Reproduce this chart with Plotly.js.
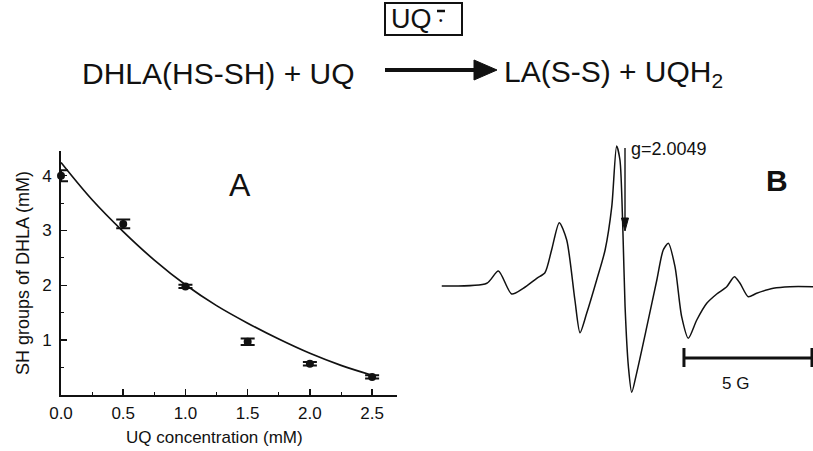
<!DOCTYPE html>
<html>
<head>
<meta charset="utf-8">
<script src="https://cdn.plot.ly/plotly-3.0.1.min.js"></script>
<style>html,body{margin:0;padding:0;background:#fff;}#chart{width:813px;height:451px;}</style>
</head>
<body>
<div id="chart"></div>
<script>
// ---- Panel A data ----
const uqConc = [0.0, 0.5, 1.0, 1.5, 2.0, 2.5];
const shGroups = [4.00, 3.12, 1.98, 0.97, 0.57, 0.33];
const shError = [0.10, 0.08, 0.03, 0.06, 0.03, 0.03];
const fitX = [0, 0.25, 0.5, 0.75, 1.0, 1.25, 1.5, 1.75, 2.0, 2.25, 2.5];
const fitY = [4.24, 3.56, 2.98, 2.46, 2.01, 1.63, 1.31, 1.02, 0.76, 0.54, 0.36];
const xTickVals = [0, 0.5, 1.0, 1.5, 2.0, 2.5];
const xTickText = ["0.0", "0.5", "1.0", "1.5", "2.0", "2.5"];
const yTickVals = [1, 2, 3, 4];
const yTickText = ["1", "2", "3", "4"];

// ---- Panel B data (EPR spectrum, field in G, intensity a.u.) ----
const fieldG = [0.03, 1.79, 2.24, 2.76, 3.21, 3.74, 4.06, 4.32, 4.62, 4.91, 5.23, 5.43, 5.69, 6.08, 6.41, 6.67, 6.86, 6.99, 7.10, 7.19, 7.32, 7.45, 7.64, 8.04, 8.43, 8.68, 8.88, 9.14, 9.40, 9.66, 9.99, 10.38, 10.77, 11.16, 11.46, 11.68, 12.00, 12.33, 12.98, 13.63, 14.53];
const eprSignal = [0.00, 0.027, 0.15, -0.08, -0.023, 0.077, 0.133, 0.36, 0.633, 0.46, -0.14, -0.467, -0.273, 0.06, 0.36, 0.793, 1.40, 1.26, 0.593, -0.207, -0.807, -1.063, -0.873, -0.407, 0.06, 0.36, 0.427, 0.193, -0.307, -0.523, -0.34, -0.173, -0.08, -0.007, 0.093, 0.027, -0.107, -0.073, -0.023, -0.007, -0.007];
const gValueLabel = "g=2.0049";
const scaleBarStartG = 9.49;
const scaleBarLengthG = 5;

const W = 813, H = 451;
const px = x => x / W;
const py = y => 1 - y / H;
const FONT = "Liberation Sans, Arial, Helvetica, sans-serif";
const black = "#111";

const traces = [
  {x: fitX, y: fitY, type: "scatter", mode: "lines", line: {color: black, width: 1.7, shape: "spline", smoothing: 1}, xaxis: "x", yaxis: "y", hoverinfo: "skip"},
  {x: uqConc, y: shGroups, type: "scatter", mode: "markers", marker: {color: black, size: 8, symbol: "circle"},
   error_y: {type: "data", array: shError, visible: true, color: black, thickness: 2, width: 7},
   cliponaxis: false, xaxis: "x", yaxis: "y"},
  {x: fieldG, y: eprSignal, type: "scatter", mode: "lines", line: {color: black, width: 1.5, shape: "spline", smoothing: 0.7}, xaxis: "x2", yaxis: "y2", hoverinfo: "skip"}
];

const layout = {
  width: W, height: H,
  margin: {l: 0, r: 0, t: 0, b: 0},
  paper_bgcolor: "#fff", plot_bgcolor: "rgba(0,0,0,0)",
  showlegend: false,
  font: {family: FONT, color: black},
  xaxis: {
    domain: [px(61), px(397)], range: [0, 2.7],
    tickvals: xTickVals, ticktext: xTickText,
    ticks: "inside", ticklen: 6, tickwidth: 1.5, tickcolor: black,
    minor: {dtick: 0.25, tick0: 0, ticks: "inside", ticklen: 3, tickwidth: 1, tickcolor: black},
    showline: true, linecolor: black, linewidth: 2, showgrid: false, zeroline: false,
    tickfont: {size: 17, family: FONT, color: black},
    ticklabelstandoff: 2,
    anchor: "y"
  },
  yaxis: {
    domain: [py(395), py(151)], range: [0, 4.45],
    tickvals: yTickVals, ticktext: yTickText,
    ticks: "inside", ticklen: 6, tickwidth: 1.5, tickcolor: black,
    minor: {dtick: 0.5, tick0: 0, ticks: "inside", ticklen: 3, tickwidth: 1, tickcolor: black},
    showline: true, linecolor: black, linewidth: 2, showgrid: false, zeroline: false,
    tickfont: {size: 17, family: FONT, color: black},
    ticklabelstandoff: 4,
    title: {text: "SH groups of DHLA (mM)", font: {size: 18, family: FONT, color: black}, standoff: 8},
    anchor: "x"
  },
  xaxis2: {domain: [px(441), 1], range: [0, 14.53], visible: false, anchor: "y2"},
  yaxis2: {domain: [py(400), py(140)], range: [-1.14, 1.46], visible: false, anchor: "x2"},
  shapes: [
    // reaction arrow
    {type: "line", xref: "paper", yref: "paper", x0: px(385), x1: px(478), y0: py(70), y1: py(70), line: {color: black, width: 4}},
    {type: "path", xref: "paper", yref: "paper", path: `M ${px(474)} ${py(60)} L ${px(497)} ${py(70)} L ${px(474)} ${py(80)} Z`, fillcolor: black, line: {color: black, width: 1}},
    // box around radical
    {type: "rect", xref: "paper", yref: "paper", x0: px(385), x1: px(462), y0: py(35), y1: py(3), line: {color: black, width: 2}},
    {type: "line", xref: "paper", yref: "paper", x0: px(437), x1: px(445), y0: py(11), y1: py(11), line: {color: black, width: 2.5}},
    // g-value marker arrow
    {type: "line", xref: "paper", yref: "paper", x0: px(625), x1: px(625), y0: py(148), y1: py(222), line: {color: black, width: 1.4}},
    {type: "path", xref: "paper", yref: "paper", path: `M ${px(621.5)} ${py(218)} L ${px(625)} ${py(231)} L ${px(628.5)} ${py(218)} Z`, fillcolor: black, line: {color: black, width: 1}},
    // scale bar
    {type: "line", xref: "x2", yref: "y2", x0: scaleBarStartG, x1: scaleBarStartG + scaleBarLengthG, y0: -0.72, y1: -0.72, line: {color: black, width: 3}},
    {type: "line", xref: "x2", yref: "y2", x0: scaleBarStartG, x1: scaleBarStartG, y0: -0.62, y1: -0.81, line: {color: black, width: 3}},
    {type: "line", xref: "x2", yref: "y2", x0: scaleBarStartG + scaleBarLengthG, x1: scaleBarStartG + scaleBarLengthG, y0: -0.62, y1: -0.81, line: {color: black, width: 3}}
  ],
  annotations: [
    {xref: "paper", yref: "paper", x: px(80), y: py(73), xanchor: "left", yanchor: "middle", text: "DHLA(HS-SH) + UQ", showarrow: false, font: {size: 30, family: FONT, color: black}},
    {xref: "paper", yref: "paper", x: px(502), y: py(73), xanchor: "left", yanchor: "middle", text: "LA(S-S) + UQH<sub>2</sub>", showarrow: false, font: {size: 30, family: FONT, color: black}},
    {xref: "paper", yref: "paper", x: px(389), y: py(19), xanchor: "left", yanchor: "middle", text: "UQ", showarrow: false, font: {size: 27, family: FONT, color: black}},
    {xref: "paper", yref: "paper", x: px(441), y: py(21), xanchor: "center", yanchor: "middle", text: "•", showarrow: false, font: {size: 10, family: FONT, color: black}},
    {xref: "paper", yref: "paper", x: px(240), y: py(185), xanchor: "center", yanchor: "middle", text: "A", showarrow: false, font: {size: 32, family: FONT, color: black}},
    {xref: "paper", yref: "paper", x: px(777), y: py(180), xanchor: "center", yanchor: "middle", text: "<b>B</b>", showarrow: false, font: {size: 30, family: FONT, color: black}},
    {xref: "paper", yref: "paper", x: px(629), y: py(149), xanchor: "left", yanchor: "middle", text: gValueLabel, showarrow: false, font: {size: 18, family: FONT, color: black}},
    {xref: "paper", yref: "paper", x: px(214), y: py(437), xanchor: "center", yanchor: "middle", text: "UQ concentration (mM)", showarrow: false, font: {size: 17, family: FONT, color: black}},
    {xref: "x2", yref: "paper", x: scaleBarStartG + scaleBarLengthG / 2 - 0.5, y: py(383), xanchor: "center", yanchor: "middle", text: "5 G", showarrow: false, font: {size: 17, family: FONT, color: black}}
  ]
};

Plotly.newPlot("chart", traces, layout, {staticPlot: true, displayModeBar: false});
</script>
</body>
</html>
